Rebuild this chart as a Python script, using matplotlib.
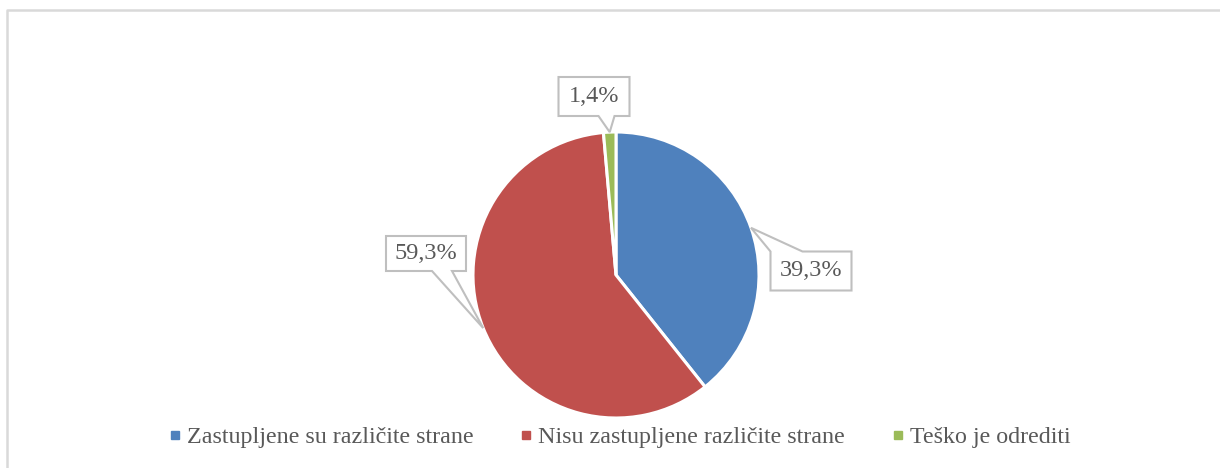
import matplotlib
matplotlib.use("Agg")
import matplotlib.pyplot as plt
from matplotlib.patches import Polygon
from matplotlib.lines import Line2D
import numpy as np

# ---- data ----
categories = ["Zastupljene su različite strane",
              "Nisu zastupljene različite strane",
              "Teško je odrediti"]
values = [39.3, 59.3, 1.4]
labels = ["39,3%", "59,3%", "1,4%"]
colors = ["#4F81BD", "#C0504D", "#9BBB59"]

# ---- layout (pixel coords, y up) ----
W, H = 1220, 468
FONT = ["Liberation Serif", "DejaVu Serif"]
TXT = "#595959"
BOXC = "#BFBFBF"
center = (616, H - 275)
radius = 143
boxes = [
    dict(cx=811, cy=271, w=81, h=39, edge="top", base=(0, 32)),
    dict(cx=426, cy=253.5, w=80, h=35, edge="bottom", base=(46, 66)),
    dict(cx=594, cy=96.5, w=71, h=39, edge="bottom", base=(40, 56)),
]

fig = plt.figure(figsize=(W / 100, H / 100), dpi=100)
ax = fig.add_axes([0, 0, 1, 1])
ax.set_xlim(0, W)
ax.set_ylim(0, H)
ax.set_aspect("equal")
ax.axis("off")

wedges, _ = ax.pie(values, colors=colors, startangle=90, counterclock=False,
                   center=center, radius=radius,
                   wedgeprops=dict(edgecolor="white", linewidth=2.2))
ax.set_xlim(0, W)
ax.set_ylim(0, H)

for wdg, lab, b in zip(wedges, labels, boxes):
    mid = np.deg2rad((wdg.theta1 + wdg.theta2) / 2)
    tip = (center[0] + radius * np.cos(mid), center[1] + radius * np.sin(mid))
    cx, cy = b["cx"], H - b["cy"]
    l, r = cx - b["w"] / 2, cx + b["w"] / 2
    bt, tp = cy - b["h"] / 2, cy + b["h"] / 2
    s, e = l + b["base"][0], l + b["base"][1]
    if b["edge"] == "bottom":
        pts = [(l, tp), (r, tp), (r, bt), (e, bt), tip, (s, bt), (l, bt)]
    else:
        pts = [(l, bt), (r, bt), (r, tp), (e, tp), tip, (s, tp), (l, tp)]
    ax.add_patch(Polygon(pts, closed=True, facecolor="white", edgecolor=BOXC,
                         linewidth=1.5, zorder=5, joinstyle="miter"))
    ax.text(cx, cy, lab, ha="center", va="center", fontsize=17.5, color=TXT,
            family=FONT, zorder=6)

# chart border (top and left visible)
ax.add_line(Line2D([6.5, 6.5, W], [0, H - 9.5, H - 9.5], color="#D9D9D9",
                   linewidth=1.8, zorder=1))

handles = [Line2D([], [], marker="s", linestyle="none", markersize=6,
                  markerfacecolor=c, markeredgecolor=c) for c in colors]
leg = fig.legend(handles, categories, loc="center", bbox_to_anchor=(0.508, 0.066),
                 ncol=3, frameon=False, handlelength=0.5, handletextpad=0.25,
                 columnspacing=1.95, prop=dict(family=FONT, size=17.3))
for t in leg.get_texts():
    t.set_color(TXT)

fig.savefig("out.png", dpi=100)
